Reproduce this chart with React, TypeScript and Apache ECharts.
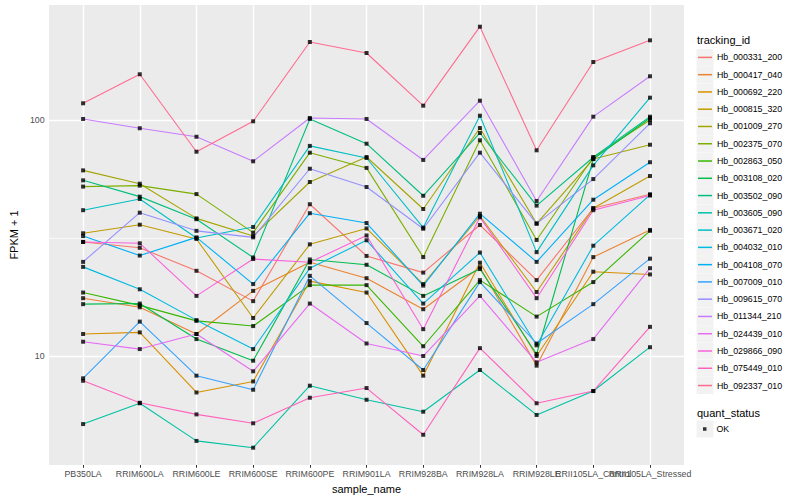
import React, { useEffect, useRef } from "react";
import * as echarts from "echarts";

const sampleNames = [
  "PB350LA", "RRIM600LA", "RRIM600LE", "RRIM600SE", "RRIM600PE", "RRIM901LA",
  "RRIM928BA", "RRIM928LA", "RRIM928LE", "RRII105LA_Control", "RRII105LA_Stressed",
];

const trackingIds = [
  "Hb_000331_200", "Hb_000417_040", "Hb_000692_220", "Hb_000815_320", "Hb_001009_270",
  "Hb_002375_070", "Hb_002863_050", "Hb_003108_020", "Hb_003502_090", "Hb_003605_090",
  "Hb_003671_020", "Hb_004032_010", "Hb_004108_070", "Hb_007009_010", "Hb_009615_070",
  "Hb_011344_210", "Hb_024439_010", "Hb_029866_090", "Hb_075449_010", "Hb_092337_010",
];

// FPKM + 1 values per tracking id, one per sample
const hb000331_200 = [30.5, 28.8, 23.0, 17.1, 44.1, 26.6, 22.6, 36.0, 21.0, 42.4, 48.6];
const hb000417_040 = [17.6, 16.1, 12.4, 18.9, 25.0, 21.4, 15.8, 23.8, 9.1, 26.3, 34.3];
const hb000692_220 = [12.4, 12.6, 7.0, 7.8, 20.8, 18.6, 8.25, 24.9, 10.0, 22.8, 22.2];
const hb000815_320 = [33.2, 36.1, 31.4, 14.5, 29.8, 34.8, 20.2, 39.3, 18.7, 42.4, 58.1];
const hb001009_270 = [61.4, 53.9, 38.4, 32.3, 54.8, 70.0, 42.1, 92.9, 36.5, 68.6, 78.9];
const hb002375_070 = [52.4, 52.9, 48.7, 33.4, 73.0, 62.9, 26.3, 82.4, 31.1, 69.8, 100.5];
const hb002863_050 = [18.6, 16.4, 14.1, 13.4, 20.0, 20.0, 11.0, 21.0, 14.7, 20.6, 34.0];
const hb003108_020 = [16.6, 16.7, 11.8, 9.55, 25.7, 24.4, 18.0, 23.4, 10.2, 68.6, 102.5];
const hb003502_090 = [55.7, 47.5, 38.1, 26.2, 101.5, 79.7, 47.9, 88.5, 43.5, 69.8, 103.8];
const hb003605_090 = [5.14, 6.3, 4.36, 4.08, 7.48, 6.52, 5.8, 8.72, 5.62, 7.1, 10.9];
const hb003671_020 = [41.6, 46.4, 31.7, 35.3, 78.0, 69.3, 35.1, 104.8, 27.6, 64.5, 125.0];
const hb004032_010 = [23.9, 19.2, 14.2, 10.7, 23.6, 31.0, 16.7, 27.5, 11.1, 29.4, 48.3];
const hb004108_070 = [32.3, 26.7, 31.9, 20.2, 40.4, 36.7, 19.9, 40.2, 25.1, 46.1, 66.5];
const hb007009_010 = [8.04, 14.0, 8.25, 7.19, 21.9, 13.8, 8.72, 20.6, 11.3, 16.6, 25.9];
const hb009615_070 = [25.1, 40.6, 34.0, 31.9, 62.4, 52.2, 34.7, 73.0, 36.5, 56.4, 97.3];
const hb011344_210 = [101.5, 92.7, 85.3, 67.1, 102.5, 101.5, 68.0, 121.4, 45.5, 103.8, 154.1];
const hb024439_010 = [11.5, 10.7, 12.4, 8.61, 16.7, 11.3, 10.0, 18.0, 9.4, 11.8, 23.6];
const hb029866_090 = [30.5, 30.1, 18.0, 25.8, 25.0, 32.5, 13.0, 38.8, 17.6, 41.6, 48.0];
const hb075449_010 = [7.85, 6.33, 5.65, 5.18, 6.65, 7.31, 4.63, 10.8, 6.3, 7.1, 13.3];
const hb092337_010 = [118.3, 157.1, 73.7, 99.2, 215.4, 193.5, 115.6, 250.2, 74.7, 177.2, 219.0];

const seriesValues = [
  hb000331_200, hb000417_040, hb000692_220, hb000815_320, hb001009_270,
  hb002375_070, hb002863_050, hb003108_020, hb003502_090, hb003605_090,
  hb003671_020, hb004032_010, hb004108_070, hb007009_010, hb009615_070,
  hb011344_210, hb024439_010, hb029866_090, hb075449_010, hb092337_010,
];

const quantStatus = ["OK"];
const yTickValues = [10, 100];
const yMinorValues = [31.623];
const yRange = [3.445, 309.3];

const colors = [
  "#F8766D", "#EA8331", "#D89000", "#C09B00", "#A3A500", "#7CAE00", "#39B600",
  "#00BB4E", "#00BF7D", "#00C1A3", "#00BFC4", "#00BAE0", "#00B0F6", "#35A2FF",
  "#9590FF", "#C77CFF", "#E76BF3", "#FA62DB", "#FF62BC", "#FF6C91",
];

const FONT = '"Liberation Sans", Arial, Helvetica, sans-serif';

export default function App() {
  const ref = useRef<HTMLDivElement>(null);

  useEffect(() => {
    if (!ref.current) return;
    const chart = echarts.init(ref.current, null, { renderer: "svg" });
    const lg = (v: number) => Math.log10(v);
    const idx = sampleNames.map((_, i) => i);
    // the "Control" label sits on its own axis so that ECharts does not hide
    // it where it runs into "Stressed" (they overlap in the reference too)
    const controlIdx = sampleNames.indexOf("RRII105LA_Control");
    const mainLabelIdx = idx.filter((i) => i !== controlIdx);

    const lineSeries = seriesValues.map((vals, i) => ({
      name: trackingIds[i],
      type: "line",
      data: vals.map((v, j) => [j, lg(v)]),
      showSymbol: false,
      silent: true,
      z: 2,
      lineStyle: { color: colors[i], width: 1.1 },
      itemStyle: { color: colors[i] },
      emphasis: { disabled: true },
    }));

    const points = seriesValues.flatMap((vals) => vals.map((v, j) => [j, lg(v)]));

    const white = (w: number) => ({ color: "#FFFFFF", width: w, type: "solid" });
    const gridSeries = {
      name: "_grid",
      type: "line",
      data: [],
      silent: true,
      z: 1,
      markLine: {
        silent: true,
        z: 1,
        symbol: ["none", "none"],
        label: { show: false },
        emphasis: { disabled: true },
        data: [
          ...yMinorValues.map((v) => ({ yAxis: lg(v), lineStyle: white(0.7) })),
          ...yTickValues.map((v) => ({ yAxis: lg(v), lineStyle: white(1.4) })),
          ...idx.map((i) => ({ xAxis: i, lineStyle: white(1.4) })),
        ],
      },
    };

    const keyTop = 48.9;
    const keyStep = 17.27;
    const keyBoxes = trackingIds.map((_, i) => ({
      type: "rect",
      z: 0,
      shape: { x: 696.5, y: keyTop + i * keyStep, width: 17, height: 17 },
      style: { fill: "#F2F2F2" },
    }));

    const labelStyle = {
      color: "#4D4D4D",
      fontSize: 8.8,
      fontFamily: FONT,
      margin: 4.5,
      showMinLabel: true,
      showMaxLabel: true,
      formatter: (v: number) => sampleNames[Math.round(v)],
    };

    chart.setOption({
      animation: false,
      backgroundColor: "#FFFFFF",
      grid: {
        left: 40,
        right: 116,
        top: 5,
        bottom: 35,
        show: true,
        backgroundColor: "#EBEBEB",
        borderWidth: 0,
      },
      xAxis: [
        {
          type: "value",
          min: -0.6,
          max: 10.6,
          position: "bottom",
          axisLine: { show: false },
          splitLine: { show: false },
          axisTick: {
            show: true,
            customValues: idx,
            length: 2.75,
            lineStyle: { color: "#333333", width: 1 },
          },
          axisLabel: { ...labelStyle, customValues: mainLabelIdx },
          name: "sample_name",
          nameLocation: "middle",
          nameGap: 15,
          nameTextStyle: { color: "#000000", fontSize: 11, fontFamily: FONT },
        },
        {
          type: "value",
          min: -0.6,
          max: 10.6,
          position: "bottom",
          offset: 0,
          axisLine: { show: false },
          splitLine: { show: false },
          axisTick: { show: false },
          axisLabel: { ...labelStyle, customValues: [controlIdx] },
        },
      ],
      yAxis: {
        type: "value",
        min: lg(yRange[0]),
        max: lg(yRange[1]),
        axisLine: { show: false },
        splitLine: { show: false },
        axisTick: {
          show: true,
          customValues: yTickValues.map(lg),
          length: 2.75,
          lineStyle: { color: "#333333", width: 1 },
        },
        axisLabel: {
          customValues: yTickValues.map(lg),
          showMinLabel: true,
          showMaxLabel: true,
          formatter: (v: number) => String(Math.round(Math.pow(10, v))),
          color: "#4D4D4D",
          fontSize: 8.8,
          fontFamily: FONT,
          margin: 4.5,
        },
        name: "FPKM + 1",
        nameLocation: "middle",
        nameGap: 21,
        nameTextStyle: { color: "#000000", fontSize: 11, fontFamily: FONT },
      },
      legend: [
        {
          orient: "vertical",
          left: 698,
          top: keyTop + 8.5 - keyStep / 2,
          padding: 0,
          itemGap: 0,
          itemWidth: 14,
          itemHeight: 1.5,
          selectedMode: false,
          data: trackingIds.map((n, i) => ({ name: n, icon: "rect", itemStyle: { color: colors[i] } })),
          textStyle: { fontSize: 8.8, color: "#000000", fontFamily: FONT, lineHeight: keyStep },
        },
        {
          orient: "vertical",
          left: 703,
          top: 429 - keyStep / 2,
          padding: 0,
          itemGap: 0,
          itemWidth: 3.5,
          itemHeight: 3.5,
          selectedMode: false,
          data: quantStatus.map((n) => ({ name: n, icon: "rect", itemStyle: { color: "#000000" } })),
          textStyle: {
            fontSize: 8.8,
            color: "#000000",
            fontFamily: FONT,
            lineHeight: keyStep,
            padding: [0, 0, 0, 5],
          },
        },
      ],
      graphic: [
        ...keyBoxes,
        {
          type: "rect",
          z: 0,
          shape: { x: 696.5, y: 420.5, width: 17, height: 17 },
          style: { fill: "#F2F2F2" },
        },
        {
          type: "text",
          x: 697,
          y: 39.5,
          style: { text: "tracking_id", fontSize: 11, fontFamily: FONT, fill: "#000000", verticalAlign: "middle", align: "left" },
        },
        {
          type: "text",
          x: 697,
          y: 412.5,
          style: { text: "quant_status", fontSize: 11, fontFamily: FONT, fill: "#000000", verticalAlign: "middle", align: "left" },
        },
      ],
      series: [
        gridSeries,
        ...lineSeries,
        {
          name: "OK",
          type: "scatter",
          data: points,
          symbol: "rect",
          symbolSize: 4,
          silent: true,
          z: 3,
          itemStyle: { color: "#000000" },
          emphasis: { disabled: true },
        },
      ],
    });

    return () => chart.dispose();
  }, []);

  return (
    <div
      ref={ref}
      style={{ position: "fixed", left: 0, top: 0, width: 800, height: 500, background: "#fff" }}
    />
  );
}
